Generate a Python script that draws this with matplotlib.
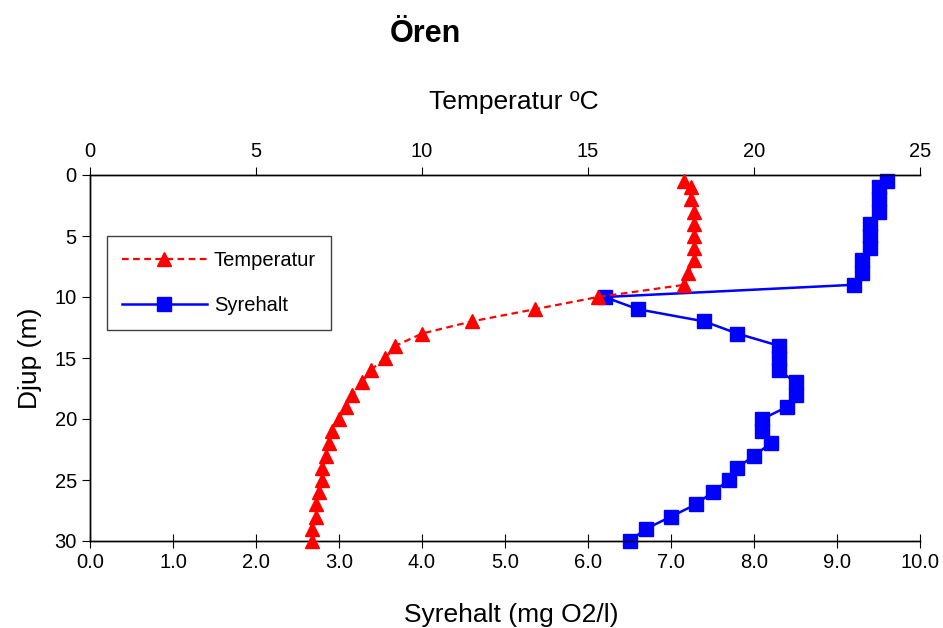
import matplotlib
matplotlib.use("Agg")
import matplotlib.pyplot as plt

# depths (m)
depth = [0.5, 1, 2, 3, 4, 5, 6, 7, 8, 9, 10, 11, 12, 13, 14, 15, 16, 17, 18, 19, 20,
         21, 22, 23, 24, 25, 26, 27, 28, 29, 30]

# temperature (C)
temp = [17.9, 18.1, 18.1, 18.2, 18.2, 18.2, 18.2, 18.2, 18.0, 17.9, 15.3, 13.4, 11.5,
        10.0, 9.2, 8.9, 8.45, 8.2, 7.9, 7.7, 7.5, 7.3, 7.2, 7.1, 7.0, 7.0, 6.9, 6.8,
        6.8, 6.7, 6.7]

# oxygen (mg O2/l)
oxygen = [9.6, 9.5, 9.5, 9.5, 9.4, 9.4, 9.4, 9.3, 9.3, 9.2, 6.2, 6.6, 7.4, 7.8, 8.3,
          8.3, 8.3, 8.5, 8.5, 8.4, 8.1, 8.1, 8.2, 8.0, 7.8, 7.7, 7.5, 7.3, 7.0, 6.7, 6.5]

plt.rcParams['font.family'] = ['Liberation Sans', 'DejaVu Sans']

fig = plt.figure(figsize=(9.43, 6.28), dpi=100)
ax = fig.add_axes([90 / 943, 1 - 541 / 628, 830 / 943, 366 / 628])
ax2 = ax.twiny()

l2, = ax.plot(oxygen, depth, color='#0000ff', lw=1.8, marker='s', ms=10,
              label='Syrehalt', clip_on=False, zorder=3)
l1, = ax2.plot(temp, depth, color='#ff0000', lw=1.6, ls=(0, (3, 2)), marker='^',
               ms=10, label='Temperatur', clip_on=False, zorder=3)

ax.set_xlim(0, 10)
ax.set_xticks([i * 1.0 for i in range(11)])
ax.set_xticklabels(['%.1f' % (i * 1.0) for i in range(11)])
ax.set_ylim(30, 0)
ax.set_yticks(range(0, 31, 5))
ax2.set_xlim(0, 25)
ax2.set_xticks(range(0, 26, 5))

for a in (ax, ax2):
    a.spines['right'].set_visible(False)
    for s in a.spines.values():
        s.set_linewidth(1.0)
ax.tick_params(axis='x', direction='inout', length=10, labelsize=14.5, pad=4)
ax.tick_params(axis='y', direction='out', length=6, labelsize=14.5)
ax2.tick_params(axis='x', direction='out', length=6, labelsize=14.5, pad=4)

ax.set_xlabel('Syrehalt (mg O2/l)', fontsize=19, labelpad=22)
ax.set_ylabel('Djup (m)', fontsize=19, labelpad=9)
ax2.set_xlabel('Temperatur ºC', fontsize=19, labelpad=24)
fig.canvas.draw()
ax.xaxis.label.set_x(0.507)
ax2.xaxis.label.set_x(0.511)

fig.text(425 / 943, 1 - 34 / 628, 'Ören', fontsize=22, fontweight='bold',
         ha='center', va='center')

leg = ax.legend([l1, l2], ['Temperatur', 'Syrehalt'], loc='upper left',
                bbox_to_anchor=(17 / 830, 1 - 61 / 366), numpoints=1,
                fontsize=14.5, fancybox=False, framealpha=1, edgecolor='#404040',
                handlelength=4.2, handletextpad=0.35, borderpad=0.75,
                labelspacing=1.3, borderaxespad=0)
leg.get_frame().set_linewidth(1.0)

fig.savefig('out.png', dpi=100)
